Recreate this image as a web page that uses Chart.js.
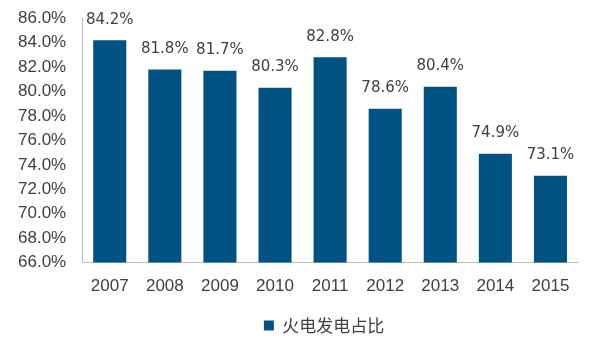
<!DOCTYPE html>
<html>
<head>
<meta charset="utf-8">
<script src="https://cdn.jsdelivr.net/npm/chart.js@4/dist/chart.umd.min.js"></script>
<style>
  html, body { margin: 0; padding: 0; background: #fff; }
  #wrap { width: 600px; height: 352px; }
</style>
</head>
<body>
<div id="wrap"><canvas id="myChart"></canvas></div>
<script>
var years = ['2007', '2008', '2009', '2010', '2011', '2012', '2013', '2014', '2015']
var thermalShare = [84.2, 81.8, 81.7, 80.3, 82.8, 78.6, 80.4, 74.9, 73.1]
var seriesName = '火电发电占比'

// labels above each bar
var barLabels = {
  id: 'barLabels',
  beforeDraw: function (chart) {
    // centre the legend (roughly) under the plot area instead of the canvas
    var lg = chart.legend
    var shift = (chart.chartArea.left + chart.chartArea.right) / 2 - (lg.left + lg.right) / 2 - 6
    lg.left += shift
    lg.right += shift
  },
  afterDatasetsDraw: function (chart) {
    var ctx = chart.ctx
    var meta = chart.getDatasetMeta(0)
    ctx.save()
    ctx.font = '15px "DejaVu Sans", sans-serif'
    ctx.fillStyle = '#404040'
    ctx.textAlign = 'center'
    ctx.textBaseline = 'bottom'
    meta.data.forEach(function (bar, i) {
      ctx.fillText(thermalShare[i].toFixed(1) + '%', bar.x, bar.y - 13)
    })
    ctx.restore()
  }
}

var ctx = document.getElementById('myChart').getContext('2d')
var myChart = new Chart(ctx, {
  type: 'bar',
  data: {
    labels: years,
    datasets: [{
      label: seriesName,
      data: thermalShare,
      backgroundColor: '#005283',
      categoryPercentage: 0.6,
      barPercentage: 1.0
    }]
  },
  options: {
    responsive: true,
    maintainAspectRatio: false,
    animation: false,
    layout: { padding: { top: 14, right: 22, left: 10, bottom: 8 } },
    plugins: {
      legend: {
        position: 'bottom',
        labels: {
          boxWidth: 10,
          boxHeight: 10,
          color: '#404040',
          font: { size: 17, family: '"Noto Sans CJK SC", sans-serif' },
          padding: 14
        }
      },
      tooltip: { enabled: false }
    },
    scales: {
      x: {
        grid: { display: false },
        border: { display: true, color: '#BFBFBF', width: 1 },
        ticks: { color: '#404040', font: { size: 17, family: '"Liberation Sans", Arial, sans-serif' }, padding: 6 }
      },
      y: {
        min: 66,
        max: 86,
        grid: { display: false },
        border: { display: true, color: '#BFBFBF', width: 1 },
        ticks: {
          stepSize: 2,
          color: '#404040',
          padding: 8,
          font: { size: 17, family: '"Liberation Sans", Arial, sans-serif' },
          callback: function (v) { return v.toFixed(1) + '%' }
        }
      }
    }
  },
  plugins: [barLabels]
})
</script>
</body>
</html>
